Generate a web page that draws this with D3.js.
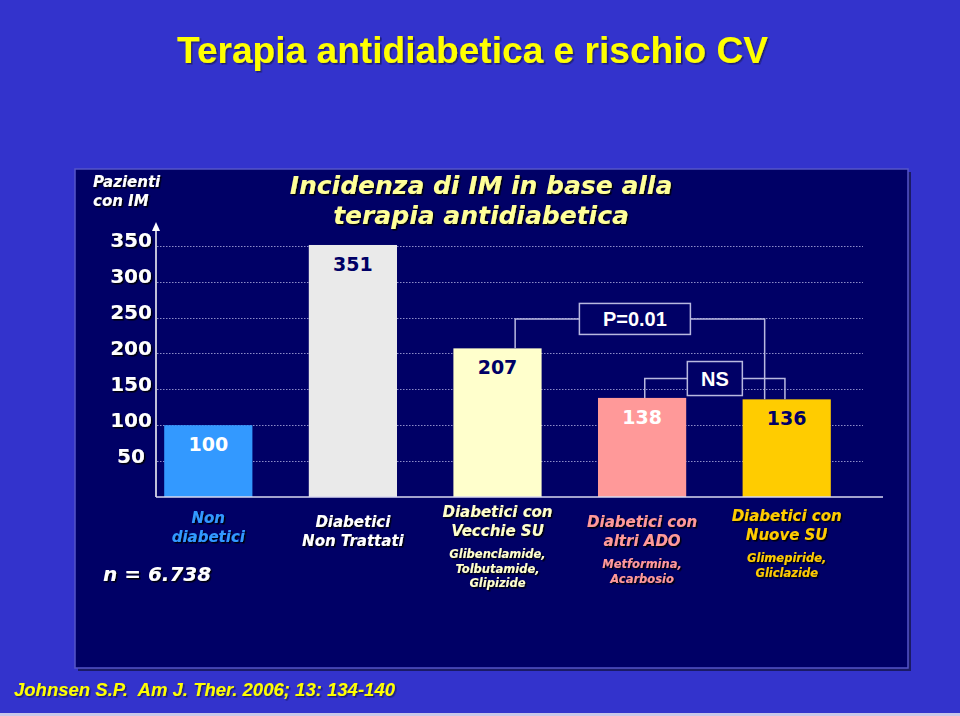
<!DOCTYPE html>
<html>
<head>
<meta charset="utf-8">
<script src="https://cdn.jsdelivr.net/npm/d3@7/dist/d3.min.js"></script>
<style>
  html, body { margin: 0; padding: 0; background: #3333CC; }
  svg { display: block; }
</style>
</head>
<body>
<svg id="chart" width="960" height="716"></svg>
<script>
// ---------------- DATA ----------------
const categories = ["Non diabetici", "Diabetici Non Trattati", "Diabetici con Vecchie SU", "Diabetici con altri ADO", "Diabetici con Nuove SU"];
const values = [100, 351, 207, 138, 136];
const labelLines = [
  ["Non", "diabetici"],
  ["Diabetici", "Non Trattati"],
  ["Diabetici con", "Vecchie SU"],
  ["Diabetici con", "altri ADO"],
  ["Diabetici con", "Nuove SU"]
];
const subLines = [
  [],
  [],
  ["Glibenclamide,", "Tolbutamide,", "Glipizide"],
  ["Metformina,", "Acarbosio"],
  ["Glimepiride,", "Gliclazide"]
];
const yTicks = [50, 100, 150, 200, 250, 300, 350];
const comparisons = [
  { from: 2, to: 4, text: "P=0.01", level: 248 },
  { from: 3, to: 4, text: "NS", level: 165 }
];
const slideTitle = "Terapia antidiabetica e rischio CV";
const chartTitle = ["Incidenza di IM in base alla", "terapia antidiabetica"];
const yAxisTitle = ["Pazienti", "con IM"];
const nText = "n = 6.738";
const source = "Johnsen S.P.  Am J. Ther. 2006; 13: 134-140";

// ---------------- STYLES ----------------
const barColors = ["#3399FF", "#EAEAEA", "#FFFFCC", "#FF9999", "#FFCC00"];
const valueColors = ["#FFFFFF", "#000066", "#000066", "#FFFFFF", "#000066"];
const labelColors = ["#3399FF", "#FFFFFF", "#FFFFCC", "#FF9999", "#FFCC00"];
const labelOffsets = [1, 5, -5, 5, -1];
const NAVY = "#000066";
const LINE = "#B8B8E0";
const FONT = "'DejaVu Sans', Verdana, sans-serif";
const ARIAL = "'Liberation Sans', Arial, sans-serif";

const svg = d3.select("#chart");
const defs = svg.append("defs");
const f = defs.append("filter").attr("id", "sh").attr("x", "-10%").attr("y", "-10%").attr("width", "130%").attr("height", "140%");
f.append("feDropShadow").attr("dx", 1.5).attr("dy", 1.5).attr("stdDeviation", 0.4).attr("flood-color", "#000000").attr("flood-opacity", 0.9);
const f2 = defs.append("filter").attr("id", "sh2").attr("x", "-10%").attr("y", "-10%").attr("width", "130%").attr("height", "140%");
f2.append("feDropShadow").attr("dx", 1.5).attr("dy", 1.5).attr("stdDeviation", 0.5).attr("flood-color", "#111133").attr("flood-opacity", 0.6);

// background
svg.append("rect").attr("width", 960).attr("height", 716).attr("fill", "#3333CC");
svg.append("rect").attr("x", 0).attr("y", 713).attr("width", 960).attr("height", 3).attr("fill", "#C8C8E8");

// slide title
svg.append("text").attr("x", 177).attr("y", 63)
  .attr("font-family", ARIAL).attr("font-weight", "bold").attr("font-size", 37)
  .attr("fill", "#FFFF00").attr("filter", "url(#sh2)")
  .attr("textLength", 591).attr("lengthAdjust", "spacingAndGlyphs")
  .text(slideTitle);

// panel
svg.append("rect").attr("x", 78).attr("y", 172).attr("width", 833).attr("height", 499).attr("fill", "#1a1a66");
svg.append("rect").attr("x", 75).attr("y", 169).attr("width", 833).attr("height", 499)
  .attr("fill", NAVY).attr("stroke", "#5555C8").attr("stroke-width", 1.5);

// scales
const x = d3.scaleBand().domain(categories).range([136, 859]).paddingInner(0.39).paddingOuter(0.195);
const y = d3.scaleLinear().domain([0, 350]).range([497, 245.7]);
const cx = i => x(categories[i]) + x.bandwidth() / 2;

// gridlines
svg.append("g").selectAll("line").data(yTicks).join("line")
  .attr("x1", 157).attr("x2", 863)
  .attr("y1", d => Math.round(y(d)) + 0.5).attr("y2", d => Math.round(y(d)) + 0.5)
  .attr("stroke", "#8C8CC8").attr("stroke-width", 1).attr("stroke-dasharray", "1.5,1.5");

// y axis with d3 axis for tick labels
const yAxis = d3.axisLeft(y).tickValues(yTicks).tickSize(0).tickPadding(0);
const gy = svg.append("g").attr("transform", "translate(131,0)").call(yAxis);
gy.select(".domain").remove();
gy.selectAll("text")
  .attr("font-family", FONT).attr("font-weight", "bold").attr("font-size", 20)
  .attr("fill", "#FFFFFF").attr("text-anchor", "middle").attr("dy", "0.05em")
  .attr("filter", "url(#sh)");

// y axis line + arrow
svg.append("line").attr("x1", 156).attr("x2", 156).attr("y1", 497).attr("y2", 228)
  .attr("stroke", "#FFFFFF").attr("stroke-width", 1.5);
svg.append("path").attr("d", "M156,222 L152,231 L160,231 Z").attr("fill", "#FFFFFF");

// y axis title
svg.append("g").selectAll("text").data(yAxisTitle).join("text")
  .attr("x", 93).attr("y", (d, i) => 187 + i * 19)
  .attr("font-family", FONT).attr("font-weight", "bold").attr("font-style", "italic").attr("font-size", 15)
  .attr("fill", "#FFFFFF").attr("filter", "url(#sh)")
  .text(d => d);

// chart title
svg.append("g").selectAll("text").data(chartTitle).join("text")
  .attr("x", 481).attr("y", (d, i) => 194 + i * 30)
  .attr("text-anchor", "middle")
  .attr("font-family", FONT).attr("font-weight", "bold").attr("font-style", "italic").attr("font-size", 25)
  .attr("fill", "#FFFF99").attr("filter", "url(#sh)")
  .text(d => d);

// bars
svg.append("g").selectAll("rect").data(values).join("rect")
  .attr("x", (d, i) => x(categories[i]))
  .attr("width", x.bandwidth())
  .attr("y", d => y(d))
  .attr("height", d => y(0) - y(d))
  .attr("fill", (d, i) => barColors[i]);

// baseline
svg.append("line").attr("x1", 156).attr("x2", 883).attr("y1", 497).attr("y2", 497)
  .attr("stroke", "#D8D8F0").attr("stroke-width", 1.5);

// value labels
svg.append("g").selectAll("text").data(values).join("text")
  .attr("x", (d, i) => cx(i))
  .attr("y", d => y(d) + 26)
  .attr("text-anchor", "middle")
  .attr("font-family", FONT).attr("font-weight", "bold").attr("font-size", 19)
  .attr("fill", (d, i) => valueColors[i])
  .text(d => d);

// comparison brackets
const bw = x.bandwidth();
const bracketX = [
  [cx(2) + 0.2 * bw, cx(4) - 0.25 * bw],
  [cx(3) + 0.03 * bw, cx(4) - 0.02 * bw]
];
const boxSize = [[111, 31], [55, 34]];
const boxShift = [-5, 0];
comparisons.forEach((c, k) => {
  const [xl, xr] = bracketX[k];
  const ly = y(c.level);
  const [bwid, bh] = boxSize[k];
  const bcx = (xl + xr) / 2 + boxShift[k];
  const g = svg.append("g");
  g.append("path")
    .attr("d", `M${xl},${y(values[c.from])} V${ly} H${bcx - bwid / 2}`)
    .attr("fill", "none").attr("stroke", LINE).attr("stroke-width", 1.5);
  g.append("path")
    .attr("d", `M${bcx + bwid / 2},${ly} H${xr} V${y(values[c.to])}`)
    .attr("fill", "none").attr("stroke", LINE).attr("stroke-width", 1.5);
  g.append("rect").attr("x", bcx - bwid / 2).attr("y", ly - bh / 2).attr("width", bwid).attr("height", bh)
    .attr("fill", NAVY).attr("stroke", LINE).attr("stroke-width", 1.5);
  g.append("text").attr("x", bcx).attr("y", ly + 7)
    .attr("text-anchor", "middle")
    .attr("font-family", ARIAL).attr("font-weight", "bold").attr("font-size", 20)
    .attr("fill", "#FFFFFF")
    .text(c.text);
});

// category labels
categories.forEach((c, i) => {
  const g = svg.append("g").attr("filter", "url(#sh)");
  const base = 522 + labelOffsets[i];
  labelLines[i].forEach((t, j) => {
    g.append("text").attr("x", cx(i)).attr("y", base + j * 19)
      .attr("text-anchor", "middle")
      .attr("font-family", FONT).attr("font-weight", "bold").attr("font-style", "italic").attr("font-size", 15)
      .attr("fill", labelColors[i]).text(t);
  });
  subLines[i].forEach((t, j) => {
    g.append("text").attr("x", cx(i)).attr("y", base + 41 + j * 14.5)
      .attr("text-anchor", "middle")
      .attr("font-family", FONT).attr("font-weight", "bold").attr("font-style", "italic").attr("font-size", 11.5)
      .attr("fill", labelColors[i]).text(t);
  });
});

// n text
svg.append("text").attr("x", 103).attr("y", 581)
  .attr("font-family", FONT).attr("font-weight", "bold").attr("font-style", "italic").attr("font-size", 20)
  .attr("fill", "#FFFFFF").attr("filter", "url(#sh)")
  .text(nText);

// source
svg.append("text").attr("x", 14).attr("y", 696)
  .style("white-space", "pre")
  .attr("font-family", ARIAL).attr("font-weight", "bold").attr("font-style", "italic").attr("font-size", 19)
  .attr("fill", "#FFFF00").attr("filter", "url(#sh2)")
  .attr("textLength", 381).attr("lengthAdjust", "spacingAndGlyphs")
  .text(source);
</script>
</body>
</html>
